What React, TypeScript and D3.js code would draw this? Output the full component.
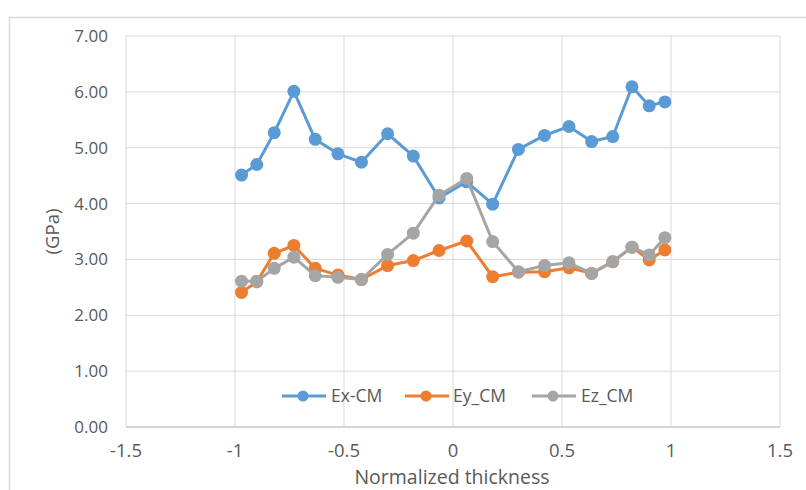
import React from 'react';
import * as d3 from 'd3';

const thickness = [
  -0.97, -0.9, -0.82, -0.73, -0.632, -0.528, -0.42, -0.3, -0.182, -0.064,
  0.063, 0.182, 0.3, 0.42, 0.532, 0.636, 0.733, 0.821, 0.9, 0.972,
];
const exCM = [
  4.51, 4.7, 5.27, 6.01, 5.15, 4.89, 4.74, 5.25, 4.85, 4.1,
  4.39, 3.99, 4.97, 5.22, 5.38, 5.11, 5.2, 6.09, 5.75, 5.82,
];
const eyCM = [
  2.41, 2.6, 3.11, 3.25, 2.84, 2.72, 2.64, 2.89, 2.98, 3.16,
  3.33, 2.69, 2.77, 2.78, 2.85, 2.75, 2.96, 3.22, 2.99, 3.17,
];
const ezCM = [
  2.61, 2.61, 2.84, 3.04, 2.71, 2.68, 2.64, 3.09, 3.47, 4.15,
  4.45, 3.32, 2.78, 2.89, 2.94, 2.75, 2.96, 3.22, 3.08, 3.39,
];
const seriesNames = ['Ex-CM', 'Ey_CM', 'Ez_CM'];
const seriesColors = ['#5B9BD5', '#ED7D31', '#A5A5A5'];
const xTicks = [-1.5, -1, -0.5, 0, 0.5, 1, 1.5];
const yTicks = [0, 1, 2, 3, 4, 5, 6, 7];

const W = 806;
const H = 490;
const margin = { top: 36, right: 26, bottom: 63, left: 126 };
const font = "'Open Sans', 'DejaVu Sans', sans-serif";
const textColor = '#595959';

export default function App() {
  const x = d3.scaleLinear().domain([-1.5, 1.5]).range([margin.left, W - margin.right]);
  const y = d3.scaleLinear().domain([0, 7]).range([H - margin.bottom, margin.top]);

  const all = [exCM, eyCM, ezCM];
  const line = d3
    .line<number>()
    .x((_, i) => x(thickness[i]))
    .y((d) => y(d));

  // legend entries, left to right
  const legendItems = [
    { lineX: 282, textX: 331 },
    { lineX: 405, textX: 453 },
    { lineX: 532, textX: 581 },
  ];
  const legendY = 396;

  return (
    <svg
      width={W}
      height={H}
      style={{ position: 'absolute', left: 0, top: 0, background: '#fff' }}
      fontFamily={font}
    >
      <rect x={9.5} y={17.5} width={W + 20} height={H + 20} fill="#fff" stroke="#D9D9D9" strokeWidth={1.5} />

      {/* grid */}
      {yTicks.map((t) => (
        <line key={'gy' + t} x1={x(-1.5)} x2={x(1.5)} y1={y(t)} y2={y(t)} stroke="#D9D9D9" strokeWidth={1} />
      ))}
      {xTicks.map((t) => (
        <line key={'gx' + t} x1={x(t)} x2={x(t)} y1={y(0)} y2={y(7)} stroke="#D9D9D9" strokeWidth={1} />
      ))}
      <line x1={x(-1.5)} x2={x(1.5)} y1={y(0)} y2={y(0)} stroke="#BFBFBF" strokeWidth={1} />

      {/* tick labels */}
      {yTicks.map((t) => (
        <text key={'ly' + t} x={108} y={y(t)} dy="0.35em" textAnchor="end" fontSize={17} fill={textColor}>
          {t.toFixed(2)}
        </text>
      ))}
      {xTicks.map((t) => (
        <text key={'lx' + t} x={x(t)} y={451} dy="0.35em" textAnchor="middle" fontSize={18.5} fill={textColor}>
          {String(t)}
        </text>
      ))}

      {/* axis titles */}
      <text x={452} y={477} dy="0.35em" textAnchor="middle" fontSize={19.5} fill={textColor}>
        Normalized thickness
      </text>
      <text
        transform={`translate(53,${y(3.5)}) rotate(-90)`}
        dy="0.35em"
        textAnchor="middle"
        fontSize={18.5}
        fill={textColor}
      >
        (GPa)
      </text>

      {/* series */}
      {all.map((vals, s) => (
        <g key={'s' + s}>
          <path d={line(vals) ?? ''} fill="none" stroke={seriesColors[s]} strokeWidth={3} strokeLinejoin="round" />
          {vals.map((v, i) => (
            <circle key={i} cx={x(thickness[i])} cy={y(v)} r={6.5} fill={seriesColors[s]} />
          ))}
        </g>
      ))}

      {/* legend */}
      {legendItems.map((it, s) => (
        <g key={'lg' + s}>
          <line x1={it.lineX} x2={it.lineX + 44} y1={legendY} y2={legendY} stroke={seriesColors[s]} strokeWidth={3} />
          <circle cx={it.lineX + 21} cy={legendY} r={5.5} fill={seriesColors[s]} />
          <text x={it.textX} y={legendY} dy="0.35em" fontSize={17.5} fill={textColor}>
            {seriesNames[s]}
          </text>
        </g>
      ))}
    </svg>
  );
}
